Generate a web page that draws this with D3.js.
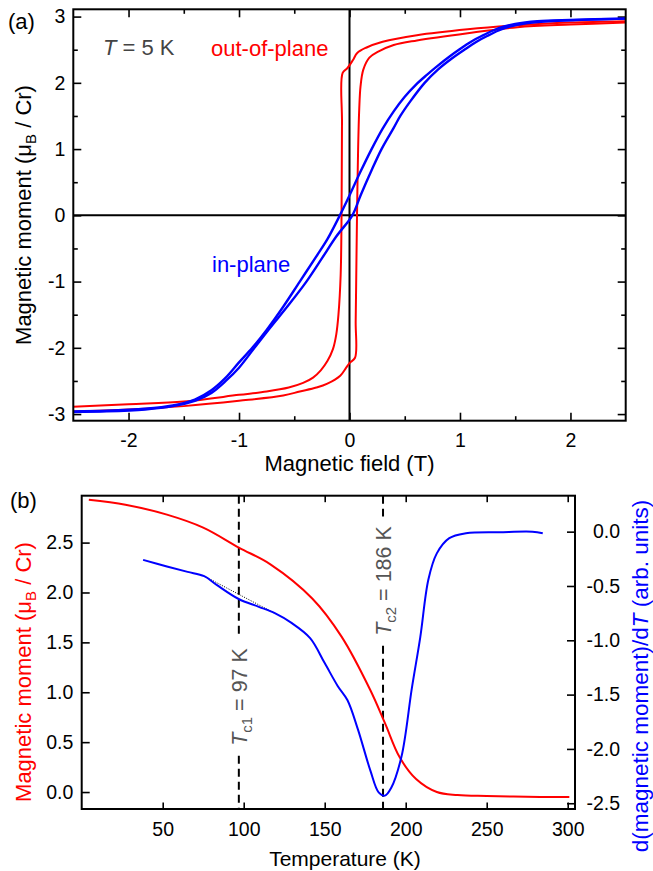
<!DOCTYPE html>
<html><head><meta charset="utf-8">
<script src="https://cdn.jsdelivr.net/npm/d3@7"></script>
<style>body{margin:0;background:#fff}</style>
</head><body>
<svg id="c" width="653" height="871" xmlns="http://www.w3.org/2000/svg"></svg>
<script>
// ---------- Panel (a) data: M(H) loops at T = 5 K ----------
const fieldTicks = [-2, -1, 0, 1, 2];
const fieldMinor = [-1.5, -0.5, 0.5, 1.5];
const momentTicksA = [-3, -2, -1, 0, 1, 2, 3];
const momentMinorA = [-2.5, -1.5, -0.5, 0.5, 1.5, 2.5];

// out-of-plane, field sweeping down
const redDownH = [2.5, 2.0, 1.52, 1.07, 0.61, 0.3, 0.15, 0.07, 0.03, -0.02, -0.062, -0.068, -0.072, -0.08, -0.1, -0.12, -0.15, -0.2, -0.26, -0.33, -0.42, -0.55, -0.75, -1.0, -1.5, -2.0, -2.5];
const redDownM = [2.93, 2.91, 2.87, 2.81, 2.72, 2.62, 2.53, 2.45, 2.34, 2.22, 2.15, 1.4, 0.0, -0.9, -1.5, -1.8, -2.02, -2.2, -2.34, -2.45, -2.53, -2.6, -2.66, -2.71, -2.81, -2.85, -2.89];
// out-of-plane, field sweeping up
const redUpH = [-2.5, -2.0, -1.5, -1.0, -0.6, -0.45, -0.3, -0.2, -0.084, -0.03, 0.0, 0.05, 0.056, 0.062, 0.068, 0.078, 0.088, 0.1, 0.125, 0.18, 0.26, 0.4, 0.61, 1.07, 1.52, 2.0, 2.5];
const redUpM = [-2.96, -2.93, -2.88, -2.80, -2.72, -2.66, -2.6, -2.54, -2.42, -2.3, -2.23, -2.15, -1.6, -0.8, 0.0, 1.0, 1.6, 1.95, 2.2, 2.38, 2.47, 2.57, 2.64, 2.75, 2.84, 2.88, 2.91];
// in-plane, field sweeping down
const blueDownH = [2.5, 2.0, 1.7, 1.5, 1.4, 1.3, 1.2, 1.1, 1.0, 0.9, 0.8, 0.7, 0.6, 0.5, 0.4, 0.3, 0.2, 0.1, 0.0, -0.087, -0.2, -0.3, -0.45, -0.6, -0.75, -0.88, -1.0, -1.12, -1.25, -1.4, -1.6, -1.85, -2.2, -2.5];
const blueDownM = [2.97, 2.95, 2.93, 2.89, 2.85, 2.79, 2.71, 2.62, 2.51, 2.39, 2.26, 2.12, 1.97, 1.79, 1.57, 1.31, 1.0, 0.66, 0.3, 0.0, -0.36, -0.62, -1.0, -1.38, -1.73, -2.0, -2.22, -2.45, -2.64, -2.78, -2.87, -2.92, -2.95, -2.96];
// in-plane, field sweeping up
const blueUpH = [-2.5, -2.2, -1.85, -1.6, -1.4, -1.25, -1.12, -1.0, -0.86, -0.72, -0.55, -0.39, -0.25, -0.12, 0.026, 0.1, 0.2, 0.29, 0.4, 0.46, 0.55, 0.68, 0.8, 0.92, 1.04, 1.15, 1.25, 1.35, 1.45, 1.6, 1.8, 2.1, 2.5];
const blueUpM = [-2.97, -2.96, -2.93, -2.88, -2.8, -2.68, -2.5, -2.3, -2.0, -1.7, -1.35, -1.0, -0.65, -0.32, 0.0, 0.3, 0.68, 1.0, 1.32, 1.5, 1.72, 2.0, 2.2, 2.36, 2.5, 2.62, 2.71, 2.79, 2.85, 2.9, 2.93, 2.95, 2.97];

// ---------- Panel (b) data: M(T) and dM/dT ----------
const tempTicks = [50, 100, 150, 200, 250, 300];
const momentTicksB = [0, 0.5, 1.0, 1.5, 2.0, 2.5];
const derivTicks = [0, -0.5, -1.0, -1.5, -2.0, -2.5];

const tempM = [4.4, 27, 52.6, 75, 97, 116.7, 142.3, 160.3, 178.2, 187.2, 196.2, 206.4, 219.2, 232, 250, 283, 301];
const momentM = [2.93, 2.88, 2.78, 2.65, 2.45, 2.28, 1.94, 1.56, 1.02, 0.69, 0.35, 0.13, 0.0, -0.03, -0.04, -0.05, -0.05];

const tempD = [37.9, 52.6, 65.4, 75.6, 83.3, 96.9, 109, 119.2, 129.5, 141, 150, 158, 164, 170.5, 178.2, 183.3, 187.2, 191, 197.4, 203.8, 209, 214, 219.2, 226.9, 237.2, 257.7, 278.2, 284.6];
const derivD = [-0.26, -0.32, -0.37, -0.41, -0.49, -0.62, -0.69, -0.75, -0.84, -0.98, -1.21, -1.42, -1.55, -1.82, -2.2, -2.4, -2.43, -2.36, -2.07, -1.44, -0.97, -0.44, -0.20, -0.06, -0.015, -0.005, 0.0, -0.015];

const baselineT = [77, 119];
const baselineD = [-0.42, -0.75];

const tcTemps = [97, 186];
const tcSubs = ["c1", "c2"];
const tcTexts = ["97", "186"];

// ---------- drawing ----------
const FONT = '"Liberation Sans", Arial, Helvetica, sans-serif';
const RED = "#ff0000", BLUE = "#0000ff", GREY = "#555555";
const svg = d3.select("#c").attr("font-family", FONT);

function axis(fn, scale, tr, values, size, fmt, pad, fs) {
  const a = fn(scale).tickValues(values).tickSize(size).tickPadding(pad).tickFormat(fmt || "");
  const g = svg.append("g").attr("transform", tr).call(a);
  g.attr("font-family", FONT).attr("font-size", fs || 19.5);
  g.select(".domain").remove();
  g.selectAll("line").attr("stroke", "#000").attr("stroke-width", 1.6);
  g.selectAll("text").attr("fill", "#000");
  return g;
}
const curve = d3.curveCatmullRom.alpha(0.5);

// ===== Panel (a) =====
const aL = 73.3, aR = 625.7, aT = 9.3, aB = 420.7;
const ax = d3.scaleLinear().domain([-2.5, 2.5]).range([aL, aR]);
const ay = d3.scaleLinear().domain([-3.1, 3.11]).range([aB, aT]);
const intFmt = d => String(d);

axis(d3.axisLeft, ay, `translate(${aL},0)`, momentTicksA, -8, intFmt, 8);
axis(d3.axisLeft, ay, `translate(${aL},0)`, momentMinorA, -4.5, null, 8);
axis(d3.axisRight, ay, `translate(${aR},0)`, momentTicksA, -8, null, 8);
axis(d3.axisRight, ay, `translate(${aR},0)`, momentMinorA, -4.5, null, 8);
axis(d3.axisBottom, ax, `translate(0,${aB})`, fieldTicks, -8, intFmt, 12);
axis(d3.axisBottom, ax, `translate(0,${aB})`, fieldMinor, -4.5, null, 12);
axis(d3.axisTop, ax, `translate(0,${aT})`, fieldTicks, -8, null, 8);
axis(d3.axisTop, ax, `translate(0,${aT})`, fieldMinor, -4.5, null, 8);

// zero lines
svg.append("line").attr("x1", aL).attr("x2", aR).attr("y1", ay(0)).attr("y2", ay(0)).attr("stroke", "#000").attr("stroke-width", 2);
svg.append("line").attr("x1", ax(0)).attr("x2", ax(0)).attr("y1", aT).attr("y2", aB).attr("stroke", "#000").attr("stroke-width", 2);

const lineA = d3.line().x(d => ax(d[0])).y(d => ay(d[1])).curve(curve);
svg.append("clipPath").attr("id", "clipA").append("rect").attr("x", aL).attr("y", aT).attr("width", aR - aL).attr("height", aB - aT);
const gA = svg.append("g").attr("clip-path", "url(#clipA)");
[[redDownH, redDownM], [redUpH, redUpM]].forEach(([h, m]) =>
  gA.append("path").attr("d", lineA(d3.zip(h, m))).attr("fill", "none").attr("stroke", RED).attr("stroke-width", 2));
[[blueDownH, blueDownM], [blueUpH, blueUpM]].forEach(([h, m]) =>
  gA.append("path").attr("d", lineA(d3.zip(h, m))).attr("fill", "none").attr("stroke", BLUE).attr("stroke-width", 2.4));

svg.append("rect").attr("x", aL).attr("y", aT).attr("width", aR - aL).attr("height", aB - aT)
  .attr("fill", "none").attr("stroke", "#000").attr("stroke-width", 2);

// texts panel a
svg.append("text").attr("x", 8).attr("y", 29).attr("font-size", 22).text("(a)");
const t5 = svg.append("text").attr("x", 103).attr("y", 55).attr("font-size", 22).attr("fill", "#444");
t5.append("tspan").attr("font-style", "italic").text("T");
t5.append("tspan").text(" = 5 K");
svg.append("text").attr("x", 211).attr("y", 56).attr("font-size", 22).attr("fill", RED).text("out-of-plane");
svg.append("text").attr("x", 212).attr("y", 272).attr("font-size", 22).attr("fill", BLUE).text("in-plane");
svg.append("text").attr("x", ax(0)).attr("y", 471).attr("font-size", 22).attr("text-anchor", "middle").text("Magnetic field (T)");

function momentTitle(x, cy, color) {
  const t = svg.append("text").attr("transform", `translate(${x},${cy}) rotate(-90)`)
    .attr("text-anchor", "middle").attr("font-size", 22).attr("fill", color);
  t.append("tspan").text("Magnetic moment (μ");
  t.append("tspan").attr("font-size", 15).attr("dy", 5).text("B");
  t.append("tspan").attr("dy", -5).text(" / Cr)");
}
momentTitle(31, 215, "#000");

// ===== Panel (b) =====
const bL = 81.7, bR = 575, bT = 495.7, bB = 809;
const bx = d3.scaleLinear().domain([0, 304.5]).range([bL, bR]);
const byL = d3.scaleLinear().domain([-0.17, 2.97]).range([bB, bT]);
const byR = d3.scaleLinear().domain([-2.553, 0.331]).range([bB, bT]);
const f1 = d => d.toFixed(1);

axis(d3.axisLeft, byL, `translate(${bL},0)`, momentTicksB, -8, f1, 8.4);
const gr = axis(d3.axisRight, byR, `translate(${bR},0)`, derivTicks, -8, f1, 8);
gr.selectAll("text").attr("text-anchor", "end").attr("x", 45);
axis(d3.axisBottom, bx, `translate(0,${bB})`, tempTicks, -6.5, d => String(d), 13);
axis(d3.axisTop, bx, `translate(0,${bT})`, tempTicks, -6.5, null, 8);

const lineM = d3.line().x(d => bx(d[0])).y(d => byL(d[1])).curve(curve);
const lineD = d3.line().x(d => bx(d[0])).y(d => byR(d[1])).curve(curve);

// Tc dashed lines with labels
const tcCenters = [697, 581];
tcTemps.forEach((tc, i) => {
  const cx = bx(tc);
  const cy = tcCenters[i];
  const t = svg.append("text").attr("transform", `translate(${cx + 8},${cy}) rotate(-90)`)
    .attr("text-anchor", "middle").attr("font-size", 21.5).attr("fill", GREY);
  t.append("tspan").attr("font-style", "italic").text("T");
  t.append("tspan").attr("font-size", 15).attr("dy", 5).text(tcSubs[i]);
  t.append("tspan").attr("dy", -5).text(" = " + tcTexts[i] + " K");
  const bb = t.node().getBBox();
  const top = cy - (bb.x + bb.width), bottom = cy - bb.x;
  [[bT, top - 9], [bottom + 10, bB]].forEach(([y1, y2]) =>
    svg.append("line").attr("x1", cx).attr("x2", cx).attr("y1", y1).attr("y2", y2)
      .attr("stroke", "#000").attr("stroke-width", 2).attr("stroke-dasharray", "8,5"));
});

svg.append("path").attr("d", lineM(d3.zip(tempM, momentM))).attr("fill", "none").attr("stroke", RED).attr("stroke-width", 2);
svg.append("path").attr("d", d3.line().x(d => bx(d[0])).y(d => byR(d[1]))(d3.zip(baselineT, baselineD)))
  .attr("fill", "none").attr("stroke", "#000").attr("stroke-width", 1).attr("stroke-dasharray", "1,1.5");
svg.append("path").attr("d", lineD(d3.zip(tempD, derivD))).attr("fill", "none").attr("stroke", BLUE).attr("stroke-width", 2);

svg.append("rect").attr("x", bL).attr("y", bT).attr("width", bR - bL).attr("height", bB - bT)
  .attr("fill", "none").attr("stroke", "#000").attr("stroke-width", 2);

svg.append("text").attr("x", 10).attr("y", 508).attr("font-size", 22).text("(b)");
svg.append("text").attr("x", 345).attr("y", 866).attr("font-size", 21).attr("text-anchor", "middle").text("Temperature (K)");
momentTitle(31, 672, RED);
const rt = svg.append("text").attr("transform", `translate(648,676) rotate(-90)`)
  .attr("text-anchor", "middle").attr("font-size", 22.5).attr("fill", BLUE);
rt.append("tspan").text("d(magnetic moment)/d");
rt.append("tspan").attr("font-style", "italic").text("T");
rt.append("tspan").text(" (arb. units)");
</script>
</body></html>
